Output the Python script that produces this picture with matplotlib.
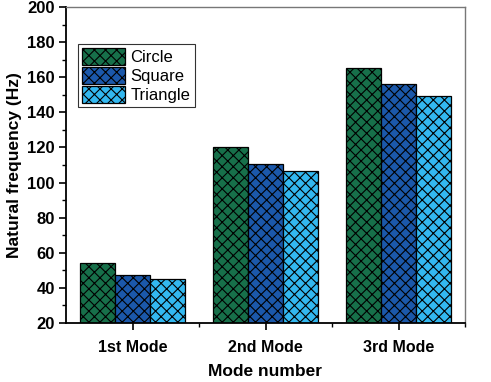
import numpy as np
import matplotlib.pyplot as plt
from matplotlib.ticker import MultipleLocator, FixedLocator

plt.rcParams['font.family'] = ['Liberation Sans', 'DejaVu Sans']
plt.rcParams['hatch.linewidth'] = 0.8

modes = ['1st Mode', '2nd Mode', '3rd Mode']
shapes = ['Circle', 'Square', 'Triangle']
circle = [54, 120, 165.5]
square = [47.5, 110.5, 156]
triangle = [45, 106.5, 149.5]
colors = ['#17704a', '#1b58aa', '#33b8f0']

fig = plt.figure(figsize=(4.91, 3.82), dpi=100)
ax = fig.add_axes([66 / 491, 59 / 382, 399 / 491, 316 / 382])

x = np.arange(len(modes))
w = 0.265
for i, (vals, name) in enumerate(zip([circle, square, triangle], shapes)):
    ax.bar(x + (i - 1) * w, vals, w, color=colors[i], edgecolor='black',
           linewidth=0.9, hatch='xxx', label=name)

ax.set_xlim(-0.5, 2.5)
ax.set_ylim(20, 200)
ax.set_xticks(x)
ax.set_xticklabels(modes, fontweight='bold', fontsize=11.5)
ax.xaxis.set_minor_locator(FixedLocator([0.5, 1.5, 2.5]))
ax.yaxis.set_major_locator(MultipleLocator(20))
ax.yaxis.set_minor_locator(MultipleLocator(10))
for lab in ax.get_yticklabels():
    lab.set_fontweight('bold')
    lab.set_fontsize(12)
ax.tick_params(axis='both', which='major', direction='out', length=5, width=1.2)
ax.tick_params(axis='both', which='minor', direction='out', length=3, width=1)
ax.tick_params(axis='x', pad=7)
ax.tick_params(axis='y', pad=3)

for s in ['left', 'bottom']:
    ax.spines[s].set_linewidth(1.3)
for s in ['top', 'right']:
    ax.spines[s].set_color('#777777')
    ax.spines[s].set_linewidth(1.0)

ax.set_xlabel('Mode number', fontweight='bold', fontsize=12.5, labelpad=7)
ax.set_ylabel('Natural frequency (Hz)', fontweight='bold', fontsize=12.5, labelpad=4)

leg = ax.legend(loc='upper left', bbox_to_anchor=(0.03, 0.883), fontsize=12,
                frameon=True, fancybox=False, edgecolor='black',
                handlelength=2.6, handleheight=1.15, handletextpad=0.3,
                labelspacing=0.12, borderpad=0.25, borderaxespad=0)
leg.get_frame().set_linewidth(0.8)

fig.savefig('out.png', dpi=100)
